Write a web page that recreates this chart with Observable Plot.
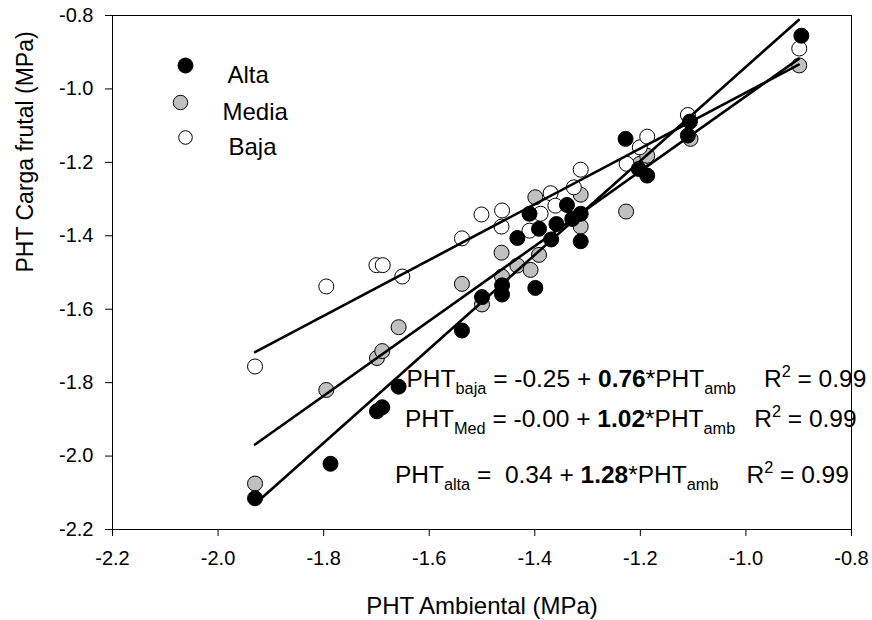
<!DOCTYPE html>
<html>
<head>
<meta charset="utf-8">
<script src="https://cdn.jsdelivr.net/npm/d3@7"></script>
<script src="https://cdn.jsdelivr.net/npm/@observablehq/plot@0.6"></script>
<style>
  html, body { margin: 0; padding: 0; background: #fff; }
  #chart svg { display: block; }
</style>
</head>
<body>
<div id="chart"></div>
<script>
// ---- data ----
const altaX = [-1.93, -1.787, -1.699, -1.689, -1.658, -1.538, -1.500, -1.462, -1.462, -1.399, -1.433, -1.410, -1.392, -1.369, -1.359, -1.339, -1.329, -1.313, -1.313, -1.228, -1.203, -1.187, -1.110, -1.106, -0.895];
const altaY = [-2.115, -2.021, -1.878, -1.867, -1.811, -1.658, -1.567, -1.535, -1.560, -1.542, -1.406, -1.340, -1.381, -1.410, -1.368, -1.316, -1.354, -1.340, -1.415, -1.136, -1.218, -1.236, -1.127, -1.089, -0.855];

const mediaX = [-1.93, -1.795, -1.699, -1.689, -1.658, -1.538, -1.500, -1.462, -1.463, -1.433, -1.408, -1.392, -1.399, -1.313, -1.313, -1.227, -1.201, -1.187, -1.105, -0.899];
const mediaY = [-2.075, -1.820, -1.733, -1.714, -1.649, -1.531, -1.587, -1.511, -1.446, -1.481, -1.493, -1.452, -1.295, -1.288, -1.375, -1.334, -1.204, -1.182, -1.136, -0.936];

const bajaX = [-1.93, -1.795, -1.700, -1.688, -1.651, -1.538, -1.501, -1.462, -1.463, -1.410, -1.389, -1.370, -1.361, -1.326, -1.313, -1.226, -1.201, -1.187, -1.110, -0.899];
const bajaY = [-1.756, -1.538, -1.480, -1.480, -1.511, -1.407, -1.342, -1.331, -1.375, -1.386, -1.340, -1.284, -1.318, -1.268, -1.220, -1.204, -1.159, -1.130, -1.071, -0.890];

// regression lines as printed on the chart
const groups = ["Alta", "Media", "Baja"];
const fills = ["#000000", "#c0c0c0", "#ffffff"];
const intercepts = [0.34, -0.00, -0.25];
const slopes = [1.28, 1.02, 0.76];
const fitRange = [-1.93, -0.90];

const xTicks = [-2.2, -2.0, -1.8, -1.6, -1.4, -1.2, -1.0, -0.8];
const yTicks = [-2.2, -2.0, -1.8, -1.6, -1.4, -1.2, -1.0, -0.8];

// equations text
const eqNames = ["baja", "Med", "alta"];
const eqIntercepts = ["-0.25", "-0.00", " 0.34"];
const eqSlopes = ["0.76", "1.02", "1.28"];
const eqR2 = ["0.99", "0.99", "0.99"];

// ---- build tables ----
const points = [
  ...mediaX.map((x, i) => ({x, y: mediaY[i], g: "Media"})),
  ...bajaX.map((x, i) => ({x, y: bajaY[i], g: "Baja"})),
  ...altaX.map((x, i) => ({x, y: altaY[i], g: "Alta"}))
];
const fitLines = [];
groups.forEach((g, i) => {
  fitRange.forEach(x => fitLines.push({g, x, y: intercepts[i] + slopes[i] * x}));
});

const FONT = "'Liberation Sans', Arial, Helvetica, sans-serif";
const fmt = d => d.toFixed(1);

const legendDx = [73, 68, 73];
const legendDy = [50, 87, 122];
const legendR = [7.5, 7.2, 6.8];
const legendTextDx = [115, 110, 116];

const marks = [
  Plot.frame({stroke: "#000", strokeWidth: 1}),
  Plot.axisX({ticks: xTicks, tickFormat: fmt, tickSize: 7, tickPadding: 14, fontSize: 20, label: null}),
  Plot.axisY({ticks: yTicks, tickFormat: fmt, tickSize: 7, tickPadding: 12, fontSize: 20, label: null}),
  Plot.dot(points, {x: "x", y: "y", r: 7.5, fill: d => fills[groups.indexOf(d.g)], stroke: "#000", strokeWidth: 1}),
  Plot.line(fitLines, {x: "x", y: "y", z: "g", stroke: "#000", strokeWidth: 2.6}),
  Plot.text(["PHT Ambiental (MPa)"], {frameAnchor: "bottom", dy: 77, fontSize: 24, lineAnchor: "middle"}),
  Plot.text(["PHT Carga frutal (MPa)"], {frameAnchor: "left", dx: -87, rotate: -90, fontSize: 23})
];
groups.forEach((g, i) => {
  marks.push(Plot.dot([g], {frameAnchor: "top-left", dx: legendDx[i], dy: legendDy[i], r: legendR[i], fill: fills[i], stroke: "#000", strokeWidth: 1}));
  marks.push(Plot.text([g], {frameAnchor: "top-left", dx: legendTextDx[i], dy: legendDy[i], textAnchor: "start", fontSize: 24}));
});

const chart = Plot.plot({
  width: 872,
  height: 620,
  marginLeft: 112,
  marginRight: 21,
  marginTop: 15,
  marginBottom: 91,
  style: {fontFamily: FONT, fontSize: "20px", color: "#000", background: "#fff"},
  x: {domain: [-2.2, -0.8]},
  y: {domain: [-2.2, -0.8]},
  marks
});

// equation annotations placed with the chart's own scales
const xs = chart.scale("x"), ys = chart.scale("y");
const eqPos = [[-1.642, -1.8125], [-1.645, -1.9215], [-1.664, -2.074]];
const eqR2Gap = [28, 19, 28];
const MAIN = 24.5, SUB = 16.3;
const svg = d3.select(chart).append("g")
  .attr("font-family", FONT).attr("font-size", MAIN).attr("fill", "#000")
  .attr("text-anchor", "start");
eqNames.forEach((n, i) => {
  const t = svg.append("text")
    .attr("x", xs.apply(eqPos[i][0]))
    .attr("y", ys.apply(eqPos[i][1]))
    .style("white-space", "pre");
  t.append("tspan").text("PHT");
  t.append("tspan").attr("font-size", SUB).attr("dy", 7).text(n);
  t.append("tspan").attr("dy", -7).text(" = " + eqIntercepts[i] + " + ");
  t.append("tspan").attr("font-weight", "bold").text(eqSlopes[i]);
  t.append("tspan").text("*PHT");
  t.append("tspan").attr("font-size", SUB).attr("dy", 7).text("amb");
  t.append("tspan").attr("dy", -7).attr("dx", eqR2Gap[i]).text("R");
  t.append("tspan").attr("font-size", SUB).attr("dy", -10).text("2");
  t.append("tspan").attr("dy", 10).text(" = " + eqR2[i]);
});

document.getElementById("chart").appendChild(chart);
</script>
</body>
</html>
